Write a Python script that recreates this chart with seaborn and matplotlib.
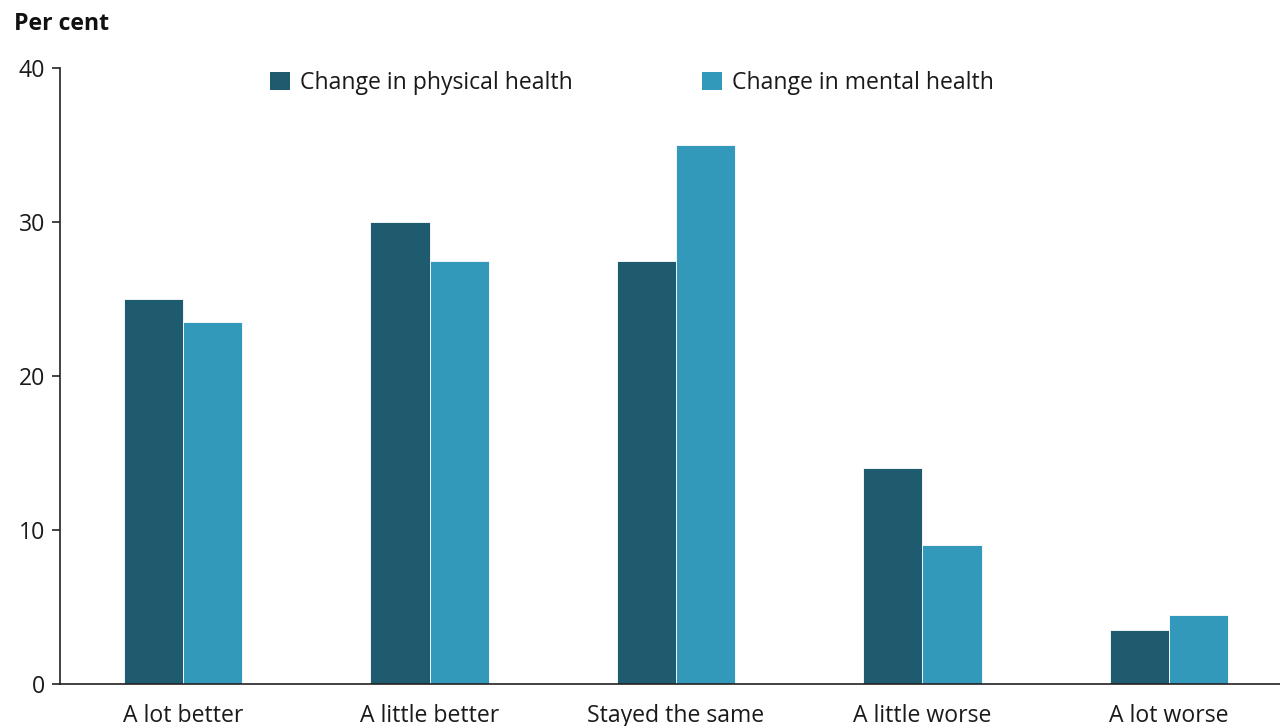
import matplotlib
matplotlib.use("Agg")
import matplotlib.pyplot as plt
import seaborn as sns
import pandas as pd
from matplotlib.patches import Patch

categories = ["A lot better", "A little better", "Stayed the same", "A little worse", "A lot worse"]
physical = [25.0, 30.0, 27.5, 14.0, 3.5]
mental = [23.5, 27.5, 35.0, 9.0, 4.5]
series = ["Change in physical health", "Change in mental health"]
colors = ["#1f5b6f", "#3299bb"]
yticks = [0, 10, 20, 30, 40]

df = pd.DataFrame({
    "category": categories * 2,
    "value": physical + mental,
    "series": [series[0]] * len(categories) + [series[1]] * len(categories),
})

sns.set_theme(style="white")
plt.rcParams["font.family"] = ["Open Sans", "DejaVu Sans"]

FS = 16.6

fig = plt.figure(figsize=(12.8, 7.26), dpi=100)
ax = fig.add_axes([60 / 1280, 42 / 726, 1232 / 1280, 616 / 726])

sns.barplot(data=df, x="category", y="value", hue="series", order=categories,
            hue_order=series, palette=colors, width=0.48, gap=0,
            edgecolor="white", linewidth=0.6, saturation=1, ax=ax, legend=False)

ax.set_ylim(0, 40)
ax.set_yticks(yticks)
ax.set_xlim(-0.5, len(categories) - 0.5)
ax.set_xlabel("")
ax.set_ylabel("")
for s in ["top", "right"]:
    ax.spines[s].set_visible(False)
for s in ["left", "bottom"]:
    ax.spines[s].set_color("#222222")
    ax.spines[s].set_linewidth(1.2)
ax.tick_params(axis="y", length=6, width=1.2, color="#222222", pad=5, labelsize=FS, left=True)
ax.tick_params(axis="x", length=0, pad=14.5, labelsize=FS)
for lab in ax.get_xticklabels() + ax.get_yticklabels():
    lab.set_color("#1a1a1a")

fig.text(14 / 1280, 1 - 24 / 726, "Per cent", fontsize=FS, fontweight="bold",
         va="center", ha="left", color="#111111")

handles = [Patch(facecolor=c, edgecolor="none") for c in colors]
fig.legend(handles, series, loc="center", bbox_to_anchor=(632 / 1280, 1 - 83 / 726),
           ncol=2, frameon=False, fontsize=FS, handlelength=0.85, handleheight=0.85,
           handletextpad=0.45, columnspacing=5.6, borderpad=0, labelcolor="#1a1a1a")

fig.savefig("out.png", dpi=100)
